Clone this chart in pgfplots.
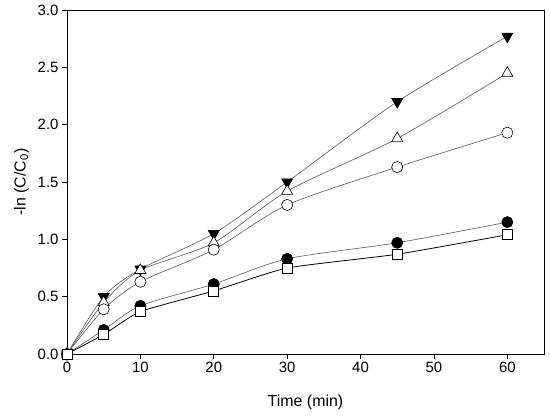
\documentclass[border=0pt]{standalone}
\usepackage{pgfplots}
\pgfplotsset{compat=1.18}
\usepackage{fontspec}
\setmainfont{Liberation Sans}
\begin{document}
\begin{tikzpicture}[x=1bp,y=1bp]
\begin{axis}[
  name=ax,
  scale only axis,
  width=477bp, height=344bp,
  xmin=0, xmax=65, ymin=0, ymax=3.0,
  xtick={0,10,...,60}, ytick={0,0.5,...,3.0},
  tick align=outside, tick pos=left,
  major tick length=5bp,
  axis line style={line width=0.8pt},
  every tick/.style={black,line width=0.8pt},
  yticklabel style={/pgf/number format/.cd,fixed,fixed zerofill,precision=1},
  /pgf/number format/assume math mode=true,
  ticklabel style={font=\fontsize{15}{18}\selectfont},
  label style={font=\fontsize{16}{19}\selectfont},
  xlabel={Time (min)},
  ylabel={-ln (C/C\textsubscript{0})},
  xlabel style={yshift=-15bp},
  ylabel style={yshift=2bp},
  clip=false,
]
\addplot[gray!70!black, line width=0.6pt, smooth, tension=0.45, mark=triangle*, mark options={rotate=180, fill=black, draw=black, scale=1}, mark size=6.4bp] coordinates {
 (0,0) (5,0.50) (10,0.74) (20,1.05) (30,1.50) (45,2.20) (60,2.77)};
\addplot[gray!70!black, line width=0.6pt, smooth, tension=0.45, mark=triangle*, mark options={fill=white, draw=black, line width=0.6pt}, mark size=6.4bp] coordinates {
 (0,0) (5,0.45) (10,0.73) (20,0.97) (30,1.42) (45,1.88) (60,2.45)};
\addplot[gray!70!black, line width=0.6pt, smooth, tension=0.45, mark=*, mark options={fill=white, draw=black, line width=0.6pt}, mark size=5.6bp] coordinates {
 (0,0) (5,0.39) (10,0.63) (20,0.91) (30,1.30) (45,1.63) (60,1.93)};
\addplot[gray!70!black, line width=0.6pt, smooth, tension=0.45, mark=*, mark options={fill=black, draw=black}, mark size=5.6bp] coordinates {
 (0,0) (5,0.21) (10,0.42) (20,0.61) (30,0.83) (45,0.97) (60,1.15)};
\addplot[black, line width=0.8pt, smooth, tension=0.3, mark=square*, mark options={fill=white, draw=black, line width=0.6pt}, mark size=5bp] coordinates {
 (0,0) (5,0.17) (10,0.37) (20,0.55) (30,0.75) (45,0.87) (60,1.04)};
\end{axis}
\pgfresetboundingbox
\useasboundingbox ([shift={(-67bp,-62bp)}]ax.south west) rectangle ([shift={(6bp,10bp)}]ax.north east);
\end{tikzpicture}
\end{document}
